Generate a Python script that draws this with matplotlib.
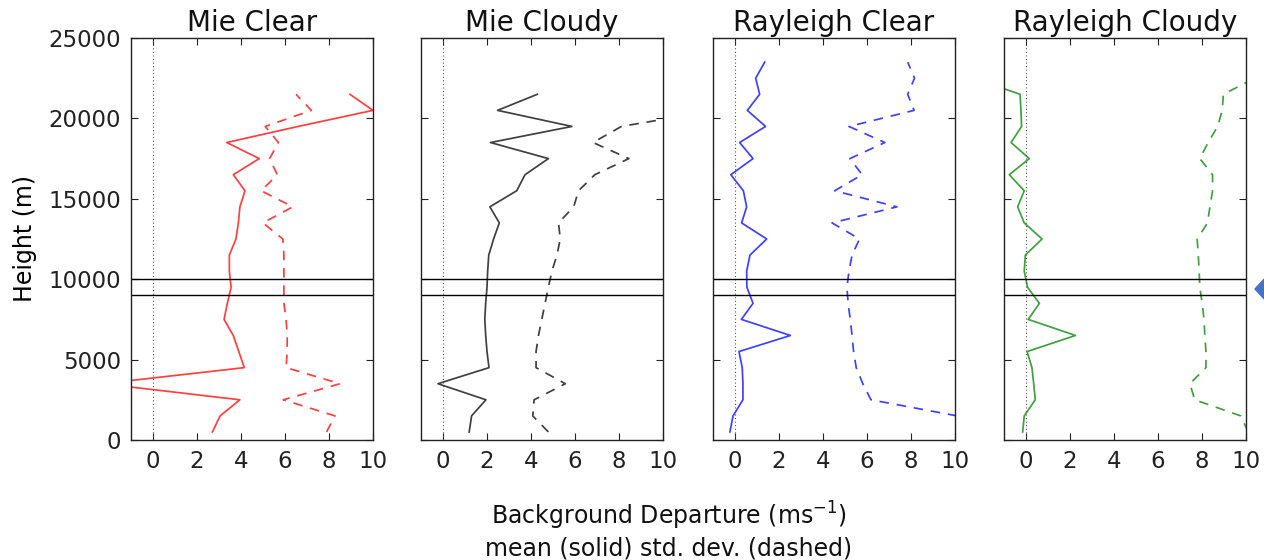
import numpy as np
import matplotlib
matplotlib.use("Agg")
import matplotlib.pyplot as plt
from matplotlib.patches import Polygon

plt.rcParams['font.family'] = ['DejaVu Sans']

nan = np.nan

# Height levels (m)
heights_mie = [500, 1500, 2500, 3500, 4500, 5500, 6500, 7500, 8500, 9500, 10500,
               11500, 12500, 13500, 14500, 15500, 16500, 17500, 18500, 19500,
               20500, 21500]
heights_ray_clear = heights_mie + [22500, 23500]
heights_ray_cloudy = heights_mie + [22500]

# Mie clear
mie_clear_mean = [2.70, 3.05, 3.95, -2.3, 4.15, 3.9, 3.65, 3.23, 3.38, 3.55, 3.47,
                  3.47, 3.77, 3.88, 3.95, 4.18, 3.65, 4.83, 3.35, 6.6, 10.0, 8.95]
mie_clear_std = [7.89, 8.27, 5.92, 8.5, 6.05, 6.1, 6.1, 6.05, 5.95, 5.95, 5.95,
                 5.95, 5.9, 5.0, 6.35, 4.92, 5.65, 5.3, 5.7, 5.1, 7.2, 6.5]

# Mie cloudy
mie_cloudy_mean = [1.19, 1.30, 1.95, -0.23, 2.09, 2.0, 1.94, 1.9, 1.94, 2.0, 2.03,
                   2.08, 2.3, 2.56, 2.13, 3.35, 3.73, 4.79, 2.16, 5.86, 2.48, 4.29]
mie_cloudy_std = [4.79, 4.08, 4.14, 5.56, 4.23, 4.23, 4.34, 4.49, 4.64, 4.79, 4.95,
                  5.18, 5.33, 5.25, 5.94, 6.16, 6.9, 8.45, 6.82, 8.11, 12.4, nan]

# Rayleigh clear
ray_clear_mean = [-0.23, -0.09, 0.36, 0.36, 0.33, 0.18, 2.52, 0.29, 0.82, 0.54, 0.53,
                  0.68, 1.44, 0.30, 0.53, 0.38, -0.19, 0.82, 0.21, 1.39, 0.56, 1.12,
                  0.94, 1.35]
ray_clear_std = [nan, 10.1, 6.18, 5.81, 5.51, 5.39, 5.32, 5.24, 5.14, 5.09, 5.18,
                 5.32, 5.66, 4.41, 7.36, 4.53, 5.78, 5.22, 6.81, 5.18, 8.14, 7.85,
                 8.16, 7.85]

# Rayleigh cloudy
ray_cloudy_mean = [-0.15, -0.08, 0.42, 0.35, 0.27, 0.05, 2.25, 0.1, 0.61, 0.07, -0.08,
                   -0.03, 0.73, -0.08, -0.38, -0.08, -0.76, 0.15, -0.68, -0.2, -0.23,
                   -0.27, -2.4]
ray_cloudy_std = [10.1, 9.76, 7.67, 7.45, 8.18, 8.18, 8.13, 8.09, 8.01, 7.9, 7.87,
                  7.83, 7.78, 8.25, 8.36, 8.48, 8.48, 7.9, 8.28, 8.71, 8.92, 8.97, 10.4]

titles = ["Mie Clear", "Mie Cloudy", "Rayleigh Clear", "Rayleigh Cloudy"]
colors = ["r", "k", "b", "g"]
panels = [
    (heights_mie, mie_clear_mean, mie_clear_std),
    (heights_mie, mie_cloudy_mean, mie_cloudy_std),
    (heights_ray_clear, ray_clear_mean, ray_clear_std),
    (heights_ray_cloudy, ray_cloudy_mean, ray_cloudy_std),
]

# Layer boundaries (m)
layer_bounds = [9000, 10000]

x_ticks = [0, 2, 4, 6, 8, 10]
y_ticks = [0, 5000, 10000, 15000, 20000, 25000]

W, H = 1264, 560
fig = plt.figure(figsize=(W / 100, H / 100), dpi=100)

lefts_px = [131, 421, 713, 1004]
width_px = 242
top_px, bottom_px = 38, 440

for i, (left, title, col, (hts, mean, std)) in enumerate(zip(lefts_px, titles, colors, panels)):
    ax = fig.add_axes([left / W, 1 - bottom_px / H, width_px / W, (bottom_px - top_px) / H])
    ax.plot(mean, hts, color=col, lw=1.25, alpha=0.75)
    ax.plot(std, hts, color=col, lw=1.25, alpha=0.75, linestyle=(0, (5.5, 4.5)))
    ax.axvline(0, color="#555555", lw=0.8, linestyle=(0, (1, 2.2)))
    for yb in layer_bounds:
        ax.axhline(yb, color="k", lw=1.0)
    ax.set_xlim(-1, 10)
    ax.set_ylim(0, 25000)
    ax.set_xticks(x_ticks)
    ax.set_yticks(y_ticks)
    ax.tick_params(direction="in", top=True, right=True, length=5, width=0.8,
                   labelsize=16.5, pad=7, colors="#222222")
    for s in ax.spines.values():
        s.set_linewidth(1.0)
        s.set_color("#222222")
    ax.set_title(title, fontsize=20, pad=5, color="#111111")
    if i == 0:
        ax.set_ylabel("Height (m)", fontsize=17, labelpad=8)
    else:
        ax.set_yticklabels([])

fig.text(669 / W, 1 - 530 / H,
         "Background Departure (ms$^{-1}$)\nmean (solid) std. dev. (dashed)",
         ha="center", va="center", multialignment="center", fontsize=17,
         color="#111111", linespacing=1.25)

# Arrow marker at right edge
arrow = Polygon([(1255 / W, 1 - 289 / H), (1267 / W, 1 - 276 / H),
                 (1267 / W, 1 - 302 / H)], closed=True,
                transform=fig.transFigure, color="#4472C4", clip_on=False)
fig.patches.append(arrow)

fig.savefig("out.png", dpi=100)
